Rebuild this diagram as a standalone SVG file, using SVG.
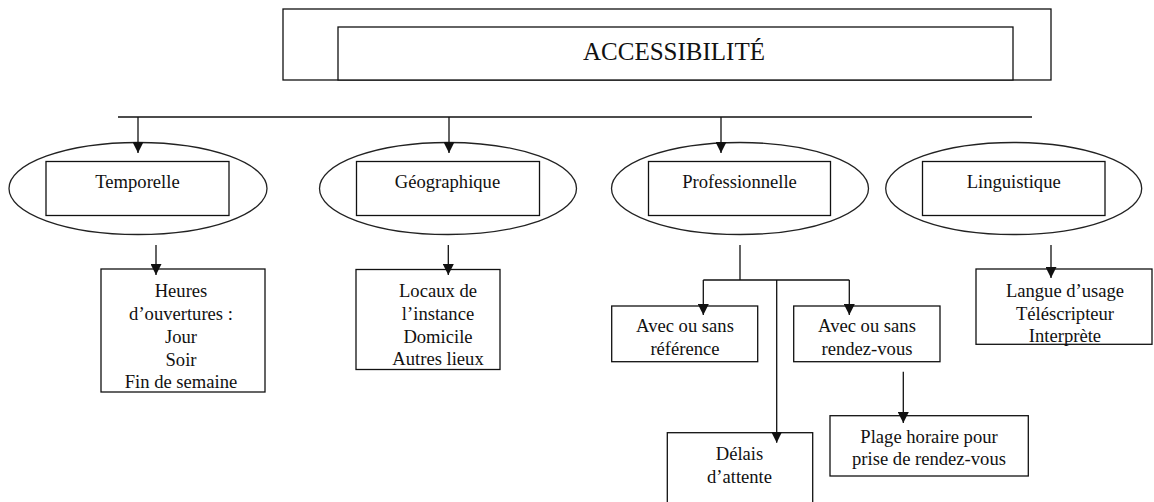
<svg xmlns="http://www.w3.org/2000/svg" width="1154" height="502" viewBox="0 0 1154 502">
<style>
.box{fill:#fff;stroke:#111;stroke-width:1.3}
.ell{fill:#fff;stroke:#222;stroke-width:1.3}
.ln{fill:none;stroke:#111;stroke-width:1.3}
text{font-family:'Liberation Serif','DejaVu Serif Condensed','DejaVu Serif',serif;font-stretch:condensed;font-size:18.6px;fill:#111;text-anchor:middle}
.title{font-size:25px}
</style>
<defs>
<marker id="ah" markerUnits="userSpaceOnUse" markerWidth="11" markerHeight="11" viewBox="0 0 11 11" refX="11" refY="5.5" orient="auto">
<path d="M0,0 L11,5.5 L0,11 z" fill="#111"/>
</marker>
</defs>
<rect width="1154" height="502" fill="#fff"/>

<g id="title">
<rect class="box" x="283" y="9" width="768" height="71"/>
<rect class="box" x="338" y="27" width="675" height="53"/>
<text class="title" x="674" y="60">ACCESSIBILITÉ</text>
</g>

<g id="temporelle">
<ellipse class="ell" cx="138" cy="188.5" rx="129" ry="46"/>
<rect class="box" x="46" y="161.5" width="183" height="54"/>
<text x="137.5" y="188">Temporelle</text>
</g>

<g id="geographique">
<ellipse class="ell" cx="448" cy="188.5" rx="128.5" ry="46"/>
<rect class="box" x="356.5" y="161.5" width="183" height="54"/>
<text x="447.5" y="188">Géographique</text>
</g>

<g id="professionnelle">
<ellipse class="ell" cx="740" cy="188.5" rx="128.5" ry="46"/>
<rect class="box" x="648.5" y="161.5" width="182" height="54"/>
<text x="739.5" y="188">Professionnelle</text>
</g>

<g id="linguistique">
<ellipse class="ell" cx="1013.7" cy="188.5" rx="128" ry="46"/>
<rect class="box" x="922.5" y="161.5" width="182.5" height="54"/>
<text x="1013.7" y="188">Linguistique</text>
</g>

<g id="horaires">
<rect class="box" x="101" y="269" width="164" height="123"/>
<text x="181" y="297">Heures</text>
<text x="181" y="320">d’ouvertures :</text>
<text x="181" y="343">Jour</text>
<text x="181" y="366">Soir</text>
<text x="181" y="388">Fin de semaine</text>
</g>

<g id="lieux">
<rect class="box" x="356" y="269.5" width="144" height="100"/>
<text x="438" y="297">Locaux de</text>
<text x="438" y="320">l’instance</text>
<text x="438" y="343">Domicile</text>
<text x="438" y="365">Autres lieux</text>
</g>

<g id="reference">
<rect class="box" x="611.7" y="306" width="146" height="55.7"/>
<text x="685" y="331.7">Avec ou sans</text>
<text x="685" y="355">référence</text>
</g>

<g id="rendezvous">
<rect class="box" x="793.7" y="306" width="146.3" height="55.7"/>
<text x="867" y="331.7">Avec ou sans</text>
<text x="867" y="355">rendez-vous</text>
</g>

<g id="delais">
<rect class="box" x="667.3" y="432.7" width="145.4" height="80"/>
<text x="739.5" y="460">Délais</text>
<text x="739.5" y="483.3">d’attente</text>
</g>

<g id="plage">
<rect class="box" x="830" y="415.7" width="198.3" height="60.3"/>
<text x="929" y="442.5">Plage horaire pour</text>
<text x="929" y="464.5">prise de rendez-vous</text>
</g>

<g id="langue">
<rect class="box" x="976" y="269" width="176" height="75.3"/>
<text x="1065" y="296.7">Langue d’usage</text>
<text x="1065" y="320">Téléscripteur</text>
<text x="1065" y="341.7">Interprète</text>
</g>

<g id="connectors">
<line class="ln" x1="118" y1="117" x2="1032" y2="117"/>
<line class="ln" x1="138" y1="117" x2="138" y2="153" marker-end="url(#ah)"/>
<line class="ln" x1="449" y1="117" x2="449" y2="153" marker-end="url(#ah)"/>
<line class="ln" x1="721" y1="117" x2="721" y2="153" marker-end="url(#ah)"/>
<line class="ln" x1="156" y1="245" x2="156" y2="275" marker-end="url(#ah)"/>
<line class="ln" x1="448.3" y1="245" x2="448.3" y2="275" marker-end="url(#ah)"/>
<line class="ln" x1="1051" y1="245" x2="1051" y2="278" marker-end="url(#ah)"/>
<polyline class="ln" points="740,245 740,280"/>
<line class="ln" x1="703.3" y1="280" x2="849.3" y2="280"/>
<line class="ln" x1="703.3" y1="280" x2="703.3" y2="315" marker-end="url(#ah)"/>
<line class="ln" x1="849.3" y1="280" x2="849.3" y2="315" marker-end="url(#ah)"/>
<line class="ln" x1="776.7" y1="280" x2="776.7" y2="442.7" marker-end="url(#ah)"/>
<line class="ln" x1="903.3" y1="371.7" x2="903.3" y2="423" marker-end="url(#ah)"/>
</g>
</svg>
